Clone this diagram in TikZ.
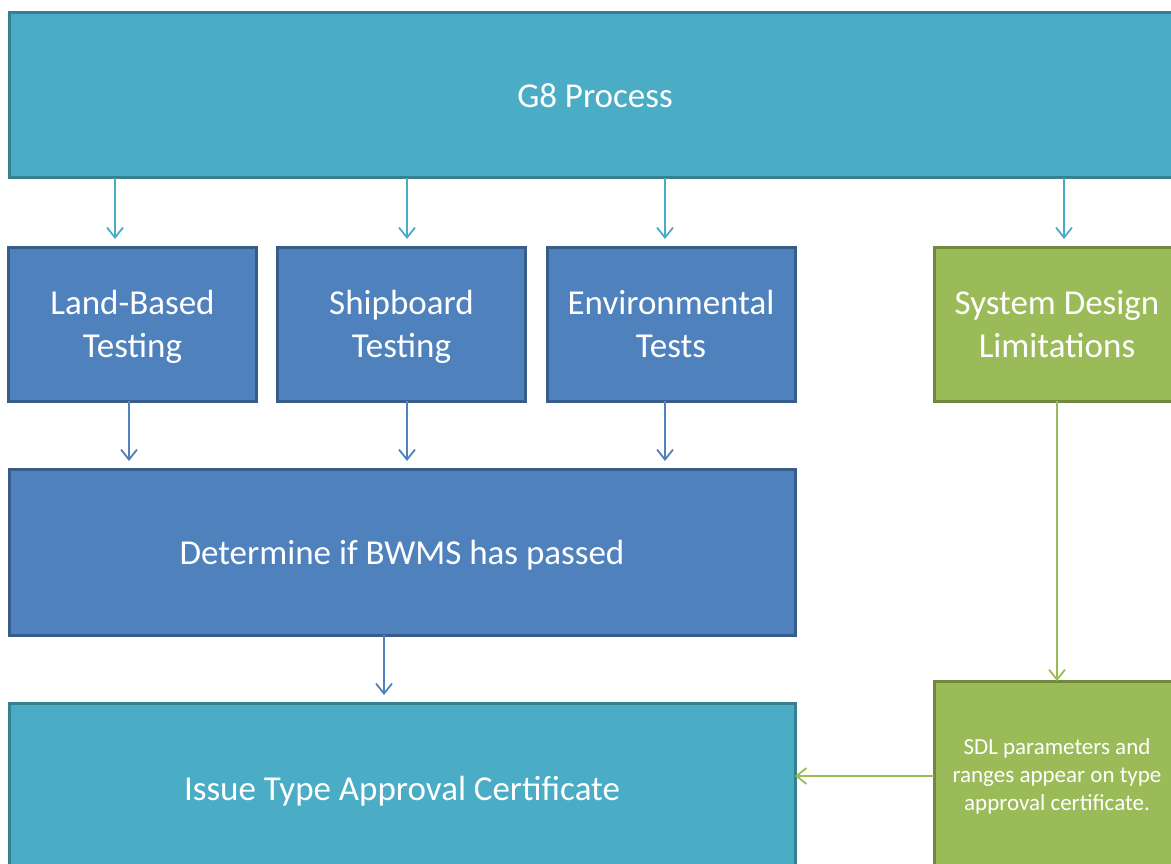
\documentclass[tikz,border=0pt]{standalone}
\usepackage{fontspec}
\setmainfont{Carlito}
\usetikzlibrary{arrows.meta}

\definecolor{tealfill}{HTML}{4BACC6}
\definecolor{tealline}{HTML}{37808F}
\definecolor{bluefill}{HTML}{4F81BD}
\definecolor{blueline}{HTML}{385D8A}
\definecolor{greenfill}{HTML}{9BBB59}
\definecolor{greenline}{HTML}{71893F}

\tikzset{
  box/.style={draw, line width=3pt, text=white, align=center, text depth=0pt,
    inner sep=0pt, outer sep=0pt, font=\fontsize{35}{43}\selectfont},
  tealbox/.style={box, fill=tealfill, draw=tealline},
  bluebox/.style={box, fill=bluefill, draw=blueline},
  greenbox/.style={box, fill=greenfill, draw=greenline},
  arr/.style={line width=1.8pt, -{Straight Barb[length=10pt,width=16pt]}},
  tealarr/.style={arr, draw=tealfill},
  bluearr/.style={arr, draw=bluefill},
  greenarr/.style={arr, draw=greenfill},
}

\begin{document}
\begin{tikzpicture}[x=1pt, y=-1pt]

%---------------- 畫面範圍 ----------------%
\clip (0,0) rectangle (1171,864);
\fill[white] (0,0) rectangle (1171,864);

\def\rowH{154}   % 中間一排方塊的高度
\def\colW{248}   % 中間一排方塊的寬度

%---------------- 方塊 ----------------%
\node[tealbox, minimum width=1172, minimum height=165] (g8) at (595,95.5) {G8 Process};

\node[bluebox, minimum width=\colW, minimum height=\rowH] (land) at (132.5,324) {Land-Based\\Testing};
\node[bluebox, minimum width=\colW, minimum height=\rowH] (ship) at (401.5,324) {Shipboard\\Testing};
\node[bluebox, minimum width=\colW, minimum height=\rowH] (env)  at (671,324) {Environmental\\Tests};
\node[greenbox, minimum width=246, minimum height=\rowH] (sdl)  at (1057,324) {System Design\\Limitations};

\node[bluebox, minimum width=786, minimum height=166] (pass) at (402,552) {Determine if BWMS has passed};
\node[tealbox, minimum width=786, minimum height=170] (issue) at (402,788) {Issue Type Approval Certificate};

\node[greenbox, minimum width=246, minimum height=188,
      font=\fontsize{23}{28}\selectfont] (sdlp) at (1057,775)
      {SDL parameters and\\ranges appear on type\\approval certificate.};

%---------------- 箭頭 ----------------%
\foreach \b/\dx in {land/-17.5, ship/5.5, env/-6, sdl/7} {
  \draw[tealarr, shorten >=8pt] ([xshift=\dx pt]\b.north |- g8.south) -- ([xshift=\dx pt]\b.north);
}
\foreach \b/\dx in {land/-3.5, ship/5.5, env/-6} {
  \draw[bluearr, shorten >=8pt] ([xshift=\dx pt]\b.south) -- ([xshift=\dx pt]\b.south |- pass.north);
}
\draw[bluearr, shorten >=8pt] ([xshift=-18pt]pass.south) -- ([xshift=-18pt]pass.south |- issue.north);

\draw[greenarr] (sdl.south) -- (sdlp.north);
\draw[greenarr] ([yshift=-1pt]sdlp.west) -- ([yshift=-1pt]sdlp.west -| issue.east);

\end{tikzpicture}
\end{document}
